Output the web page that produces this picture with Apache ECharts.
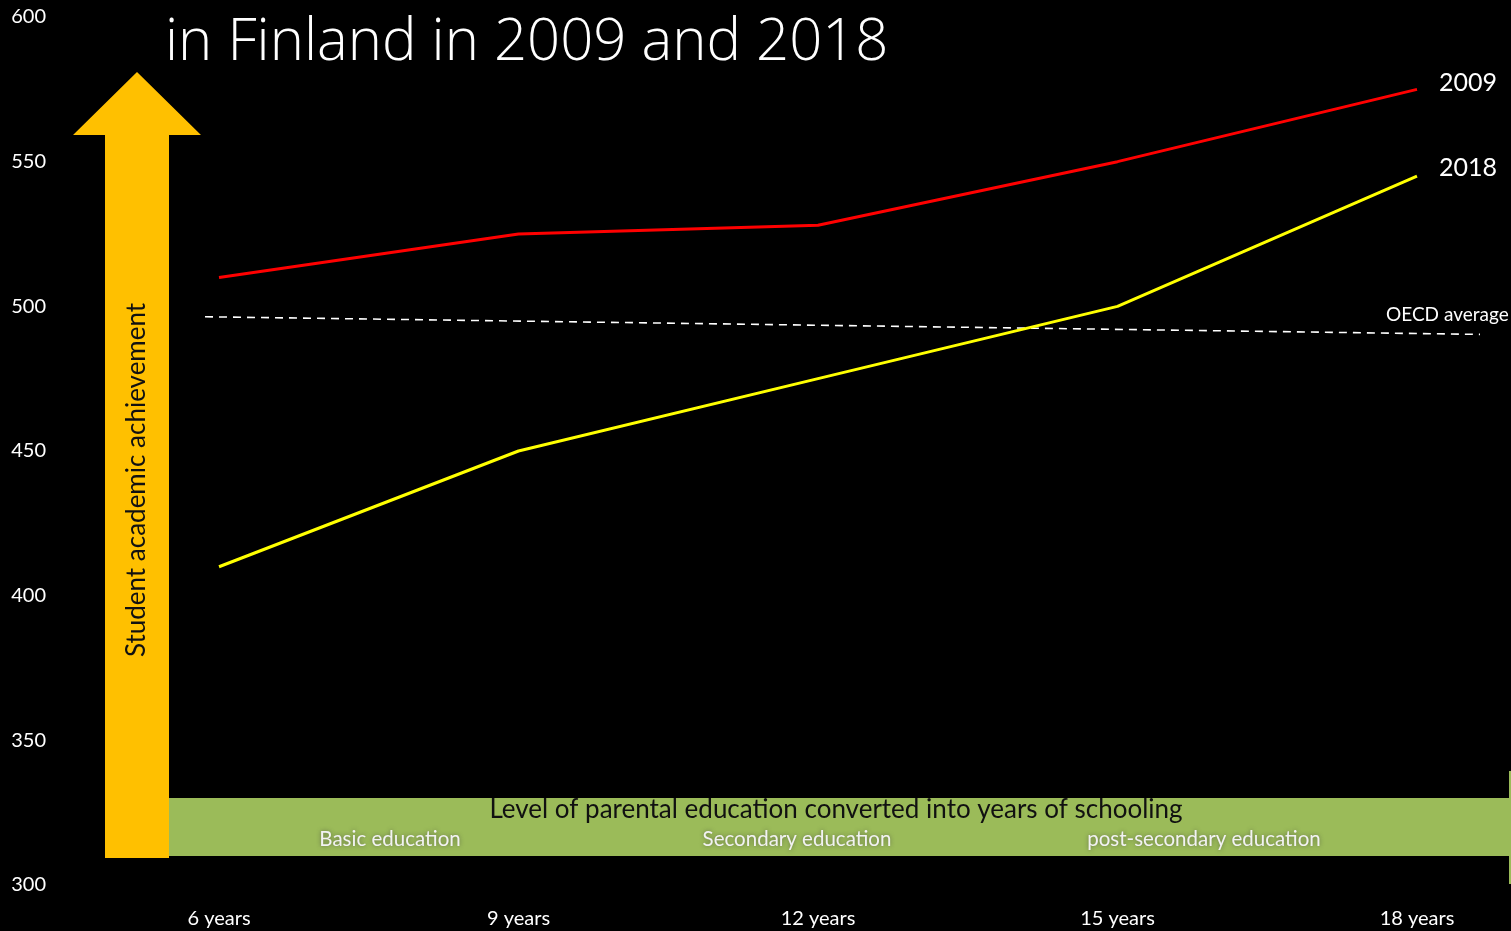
<!DOCTYPE html>
<html>
<head>
<meta charset="utf-8">
<title>Student achievement by parental education, Finland 2009 and 2018</title>
<script src="https://cdn.jsdelivr.net/npm/echarts@6/dist/echarts.min.js"></script>
<style>
  html, body { margin: 0; padding: 0; background: #000; }
  #chart { width: 1511px; height: 931px; }
</style>
</head>
<body>
<div id="chart"></div>
<script>
// Years of parental schooling (category axis)
const categories = ['6 years', '9 years', '12 years', '15 years', '18 years'];
// Mean reading scores by parental education
const scores2009 = [510, 525, 528, 550, 575];
const scores2018 = [410, 450, 475, 500, 545];
// OECD average reference line, given as [years of schooling, score]
const oecdAverage = [[5.86, 496.4], [18.63, 490.3]];
// Education stage labels in the horizontal band
const stageLabels = ['Basic education', 'Secondary education', 'post-secondary education'];
const yTicks = { min: 300, max: 600, step: 50 };

const chart = echarts.init(document.getElementById('chart'));

const labelFont = 'Lato, "Open Sans", sans-serif';

// Pixel geometry of the decorative arrows
const arrowUp = [[137, 72], [201, 135], [169, 135], [169, 858], [105, 858], [105, 135], [73, 135]];
const stagePos = [390, 797, 1204];

const option = {
  backgroundColor: '#000000',
  animation: false,
  grid: [
    // main plot area: category points from 6 to 18 years
    { left: 219, right: 94, top: 17, bottom: 46, containLabel: false },
    // the OECD reference line runs a little past both end categories
    { left: 205, right: 31, top: 17, bottom: 46, containLabel: false }
  ],
  xAxis: [
    {
      type: 'category',
      gridIndex: 0,
      data: categories,
      boundaryGap: false,
      axisLine: { show: false },
      axisTick: { show: false },
      splitLine: { show: false },
      axisLabel: { color: '#ffffff', fontSize: 20, fontFamily: labelFont, margin: 24 }
    },
    {
      type: 'value',
      gridIndex: 1,
      min: oecdAverage[0][0],
      max: oecdAverage[oecdAverage.length - 1][0],
      show: false
    }
  ],
  yAxis: [
    {
      type: 'value',
      gridIndex: 0,
      min: yTicks.min,
      max: yTicks.max,
      interval: yTicks.step,
      axisLine: { show: false },
      axisTick: { show: false },
      splitLine: { show: false },
      axisLabel: { color: '#ffffff', fontSize: 20, fontFamily: labelFont, margin: 173, align: 'right' }
    },
    {
      type: 'value',
      gridIndex: 1,
      min: yTicks.min,
      max: yTicks.max,
      interval: yTicks.step,
      show: false
    }
  ],
  series: [
    {
      name: '2009',
      type: 'line',
      data: scores2009,
      showSymbol: false,
      lineStyle: { color: '#ff0000', width: 3 },
      itemStyle: { color: '#ff0000' },
      endLabel: {
        show: true,
        formatter: '{a}',
        color: '#ffffff',
        fontSize: 25,
        fontFamily: labelFont,
        distance: 22,
        offset: [0, -6]
      },
      z: 3
    },
    {
      name: '2018',
      type: 'line',
      data: scores2018,
      showSymbol: false,
      lineStyle: { color: '#ffff00', width: 3 },
      itemStyle: { color: '#ffff00' },
      endLabel: {
        show: true,
        formatter: '{a}',
        color: '#ffffff',
        fontSize: 25,
        fontFamily: labelFont,
        distance: 22,
        offset: [0, -8]
      },
      z: 3
    },
    {
      name: 'OECD average',
      type: 'line',
      xAxisIndex: 1,
      yAxisIndex: 1,
      data: oecdAverage,
      showSymbol: false,
      lineStyle: { color: '#ffffff', width: 1.6, type: [8, 6] },
      itemStyle: { color: '#ffffff' },
      endLabel: {
        show: true,
        formatter: '{a}',
        color: '#ffffff',
        fontSize: 19,
        fontFamily: labelFont,
        distance: 0,
        offset: [-94, -20]
      },
      z: 2
    }
  ],
  graphic: [
    {
      type: 'text',
      left: 165,
      top: 14,
      style: {
        text: 'in Finland in 2009 and 2018',
        fill: '#ffffff',
        font: '300 58px "Open Sans", sans-serif'
      },
      z: 10
    },
    {
      type: 'polygon',
      shape: { points: arrowUp },
      style: { fill: '#ffc000' },
      z: 1
    },
    {
      type: 'text',
      x: 137,
      y: 480,
      rotation: Math.PI / 2,
      style: {
        text: 'Student academic achievement',
        fill: '#111111',
        font: '26px ' + labelFont,
        align: 'center',
        verticalAlign: 'middle'
      },
      z: 5
    },
    {
      type: 'rect',
      shape: { x: 169, y: 798, width: 1342, height: 58 },
      style: { fill: '#9bbb59' },
      z: 1
    },
    {
      type: 'rect',
      shape: { x: 1509, y: 771, width: 2, height: 113 },
      style: { fill: '#9bbb59' },
      z: 1
    },
    {
      type: 'text',
      x: 836,
      y: 810,
      style: {
        text: 'Level of parental education converted into years of schooling',
        fill: '#111111',
        font: '26px ' + labelFont,
        align: 'center',
        verticalAlign: 'middle'
      },
      z: 5
    }
  ].concat(stageLabels.map(function (t, i) {
    return {
      type: 'text',
      x: stagePos[i],
      y: 839,
      style: {
        text: t,
        fill: '#f2f2f2',
        font: '20.5px ' + labelFont,
        align: 'center',
        verticalAlign: 'middle',
        textShadowColor: 'rgba(60,60,60,0.6)',
        textShadowBlur: 4
      },
      z: 5
    };
  }))
};

chart.setOption(option);
</script>
</body>
</html>
